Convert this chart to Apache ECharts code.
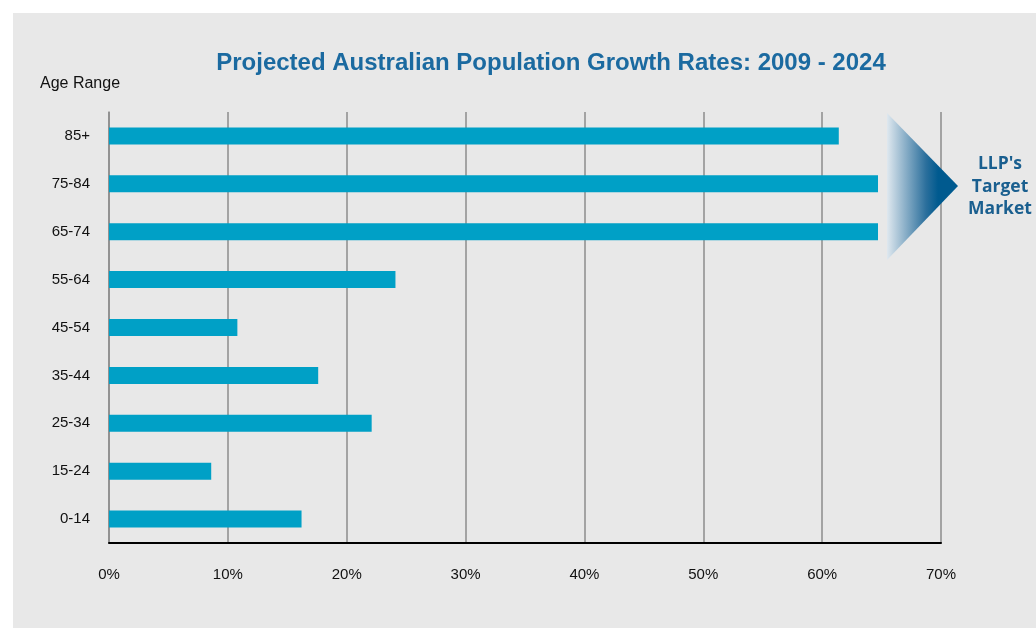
<!DOCTYPE html>
<html>
<head>
<meta charset="utf-8">
<script src="https://cdn.jsdelivr.net/npm/echarts@6/dist/echarts.min.js"></script>
<style>
  html, body { margin: 0; padding: 0; background: #fff; }
  #main { width: 1036px; height: 628px; }
</style>
</head>
<body>
<div id="main"></div>
<script>
// age groups, bottom to top
var ageRanges = ['0-14', '15-24', '25-34', '35-44', '45-54', '55-64', '65-74', '75-84', '85+'];
// projected growth 2009-2024, in percent
var growthRates = [16.2, 8.6, 22.1, 17.6, 10.8, 24.1, 64.7, 64.7, 61.4];
var xTicks = [0, 10, 20, 30, 40, 50, 60, 70];

var chart = echarts.init(document.getElementById('main'));

var option = {
    backgroundColor: '#ffffff',
    animation: false,
    textStyle: { fontFamily: 'Liberation Sans, Arial, sans-serif' },
    title: {
        text: 'Projected Australian Population Growth Rates: 2009 - 2024',
        left: 546,
        textAlign: 'center',
        top: 46,
        textStyle: {
            color: '#1b6aa0',
            fontSize: 24,
            fontWeight: 'bold',
            fontFamily: 'Liberation Sans, Arial, sans-serif'
        }
    },
    graphic: [
        {
            type: 'rect', z: -10, silent: true,
            shape: { x: 13, y: 13, width: 1023, height: 615 },
            style: { fill: '#e8e8e8' }
        },
        {
            type: 'text', left: 40, top: 76,
            style: { text: 'Age Range', fill: '#111', fontSize: 16, fontFamily: 'Liberation Sans, Arial, sans-serif' }
        },
        {
            type: 'polygon', z: 10,
            shape: { points: [[887, 113], [958, 186], [887, 260]] },
            style: {
                fill: {
                    type: 'linear', x: 0, y: 0, x2: 1, y2: 0,
                    colorStops: [
                        { offset: 0, color: '#dfe8ef' },
                        { offset: 0.55, color: '#2b6f9c' },
                        { offset: 0.72, color: '#005a8f' },
                        { offset: 1, color: '#005a8f' }
                    ]
                }
            }
        },
        {
            type: 'text', z: 10,
            style: {
                x: 1000, y: 187,
                text: "LLP's\nTarget\nMarket",
                align: 'center', verticalAlign: 'middle',
                fill: '#1a5f8f', fontSize: 17.5, fontWeight: 'bold',
                lineHeight: 22.5,
                fontFamily: 'Open Sans, sans-serif'
            }
        }
    ],
    grid: { left: 109, right: 95, top: 112, bottom: 85 },
    xAxis: {
        type: 'value',
        min: 0, max: 70, interval: 10,
        axisLine: { show: true, lineStyle: { color: '#000', width: 2 } },
        axisTick: { show: false },
        axisLabel: {
            margin: 24, fontSize: 15, color: '#111',
            formatter: function (v) { return xTicks.indexOf(v) >= 0 ? v + '%' : ''; }
        },
        splitLine: { show: true, lineStyle: { color: '#8c8c8c', width: 1.5 } }
    },
    yAxis: {
        type: 'category',
        data: ageRanges,
        axisLine: { show: true, lineStyle: { color: '#8c8c8c', width: 1.5 } },
        axisTick: { show: false },
        axisLabel: { margin: 19, fontSize: 15, color: '#111' }
    },
    series: [{
        type: 'bar',
        data: growthRates,
        barWidth: 17,
        itemStyle: { color: '#00a0c6' }
    }]
};

chart.setOption(option);
</script>
</body>
</html>
